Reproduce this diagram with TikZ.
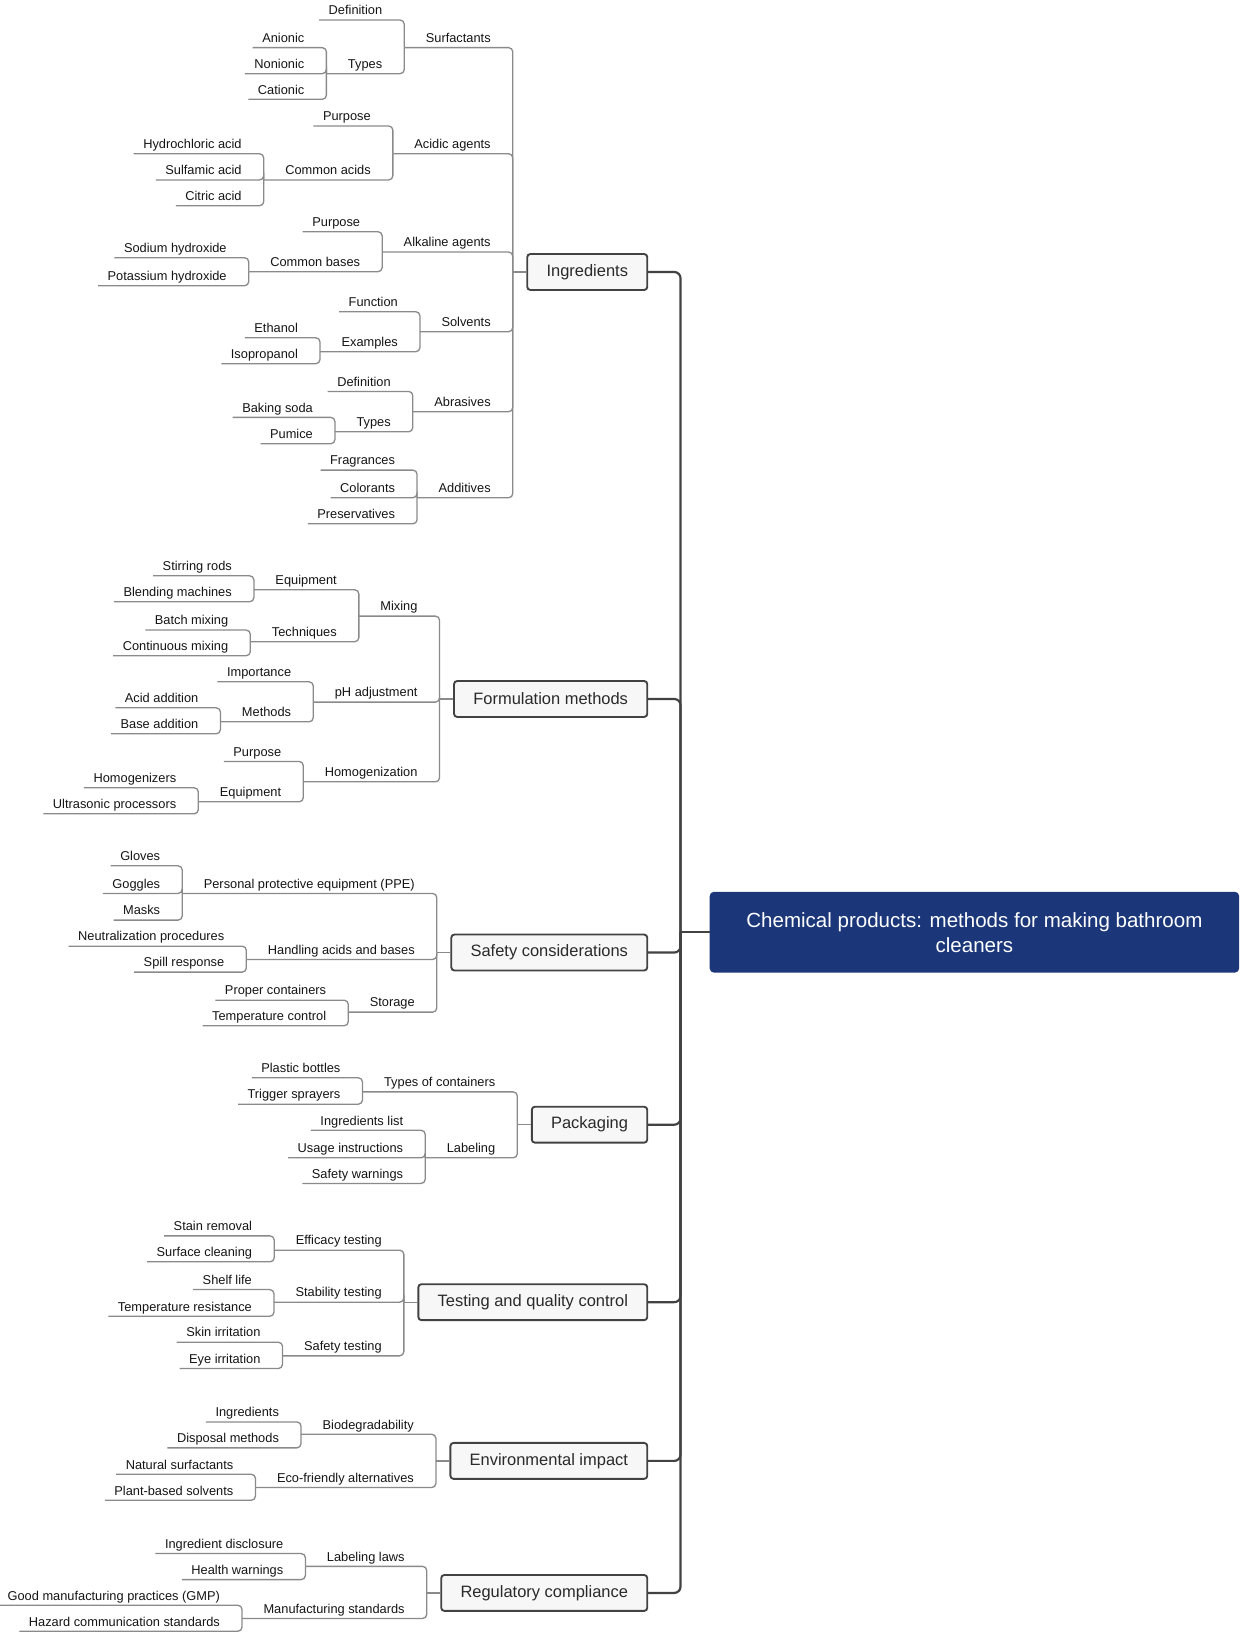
\documentclass[tikz,border=0pt]{standalone}
\usepackage{fontspec}
\setmainfont{Liberation Sans}
\usetikzlibrary{calc}
\definecolor{linkc}{HTML}{8A8A8A}
\definecolor{trunkc}{HTML}{424242}
\definecolor{boxfill}{HTML}{F7F7F7}
\definecolor{rootc}{HTML}{1B3779}
\definecolor{txt}{HTML}{141414}
\definecolor{boxtxt}{HTML}{2A2A2A}
\tikzset{
  lbl/.style={inner sep=0pt, font=\fontsize{12.3}{14}\selectfont, text=txt},
  link/.style={draw=linkc, line width=1.25pt, rounded corners=4pt},
  mainbox/.style={draw=trunkc, fill=boxfill, line width=1.8pt, rounded corners=3pt,
    font=\fontsize{15.8}{18}\selectfont, text=boxtxt, minimum height=34.5pt,
    inner xsep=18.5pt, inner ysep=0pt},
  trunk/.style={draw=trunkc, line width=2.1pt, rounded corners=6pt},
  rootbox/.style={fill=rootc, rounded corners=4pt, text=white,
    font=\fontsize{19.7}{24}\selectfont, align=center,
    minimum width=508pt, minimum height=77.5pt, inner sep=0pt}
}
% #1 name, #2 parent junction, #3 underline y, #4 text, #5 left padding
\newcommand\mmkid[5]{%
  \coordinate (#1-b) at ($(#2)+(-21pt,0)$);
  \coordinate (#1-y) at (0,#3-5);
  \coordinate (#1-u) at (0,#3);
  \node[lbl, anchor=base east] (#1) at (#1-b |- #1-y) {#4};
  \coordinate (#1-j) at ($(#1.base west |- #1-u)+(-20.5pt,0)$);
  \coordinate (#1-s) at ($(#1.base west |- #1-u)+(-#5pt,0)$);
  \draw[link] (#1-s) -| (#2);
}
\newcommand\mmmain[3]{%
  \node[mainbox, anchor=east] (#1) at (622,#2) {#3};
  \coordinate (#1-j) at ($(#1.west)+(-13pt,0)$);
  \draw[link] (#1.west) -- (#1-j);
  \draw[trunk] (#1.east) -| (rj);
}
\begin{document}
\begin{tikzpicture}[x=1pt,y=-1pt]
\useasboundingbox (0,0) rectangle (1190,1566);
\node[rootbox] (root) at (935,894.5) {Chemical products: methods for making bathroom\\cleaners};
\coordinate (rj) at (653,894.5);
\draw[trunk] (rj) -- (root.west);

% Ingredients
\mmmain{ing}{261}{Ingredients}
\mmkid{surf}{ing-j}{45.7}{Surfactants}{20.5}
\mmkid{defa}{surf-j}{19.2}{Definition}{9}
\mmkid{typa}{surf-j}{70.7}{Types}{20.5}
\mmkid{ani}{typa-j}{45.7}{Anionic}{9}
\mmkid{non}{typa-j}{70.7}{Nonionic}{9}
\mmkid{cat}{typa-j}{95.3}{Cationic}{9}
\mmkid{acid}{ing-j}{147.5}{Acidic agents}{20.5}
\mmkid{pura}{acid-j}{120.9}{Purpose}{9}
\mmkid{cacid}{acid-j}{172.7}{Common acids}{20.5}
\mmkid{hcl}{cacid-j}{147.5}{Hydrochloric acid}{9}
\mmkid{sulf}{cacid-j}{172.7}{Sulfamic acid}{9}
\mmkid{citr}{cacid-j}{197.4}{Citric acid}{9}
\mmkid{alk}{ing-j}{241.8}{Alkaline agents}{20.5}
\mmkid{purb}{alk-j}{222.3}{Purpose}{9}
\mmkid{cbase}{alk-j}{260.7}{Common bases}{20.5}
\mmkid{naoh}{cbase-j}{247.3}{Sodium hydroxide}{9}
\mmkid{koh}{cbase-j}{274.2}{Potassium hydroxide}{9}
\mmkid{solv}{ing-j}{318.3}{Solvents}{20.5}
\mmkid{func}{solv-j}{299.1}{Function}{9}
\mmkid{exa}{solv-j}{337.5}{Examples}{20.5}
\mmkid{eth}{exa-j}{324.1}{Ethanol}{9}
\mmkid{iso}{exa-j}{349}{Isopropanol}{9}
\mmkid{abr}{ing-j}{395.1}{Abrasives}{20.5}
\mmkid{defb}{abr-j}{375.6}{Definition}{9}
\mmkid{typb}{abr-j}{414.3}{Types}{20.5}
\mmkid{bak}{typb-j}{400.5}{Baking soda}{9}
\mmkid{pum}{typb-j}{425.8}{Pumice}{9}
\mmkid{add}{ing-j}{477.6}{Additives}{20.5}
\mmkid{fra}{add-j}{451.1}{Fragrances}{9}
\mmkid{col}{add-j}{477.6}{Colorants}{9}
\mmkid{pre}{add-j}{502.6}{Preservatives}{9}

% Formulation methods
\mmmain{form}{670.7}{Formulation methods}
\mmkid{mix}{form-j}{591.2}{Mixing}{20.5}
\mmkid{equa}{mix-j}{565.9}{Equipment}{20.5}
\mmkid{stir}{equa-j}{552.5}{Stirring rods}{9}
\mmkid{blend}{equa-j}{577.4}{Blending machines}{9}
\mmkid{tech}{mix-j}{615.8}{Techniques}{20.5}
\mmkid{batch}{tech-j}{604.6}{Batch mixing}{9}
\mmkid{cont}{tech-j}{629.2}{Continuous mixing}{9}
\mmkid{ph}{form-j}{673.7}{pH adjustment}{20.5}
\mmkid{imp}{ph-j}{654.2}{Importance}{9}
\mmkid{meth}{ph-j}{692.6}{Methods}{20.5}
\mmkid{acad}{meth-j}{679.2}{Acid addition}{9}
\mmkid{bsad}{meth-j}{704.1}{Base addition}{9}
\mmkid{hom}{form-j}{750.2}{Homogenization}{20.5}
\mmkid{purc}{hom-j}{730.6}{Purpose}{9}
\mmkid{equb}{hom-j}{769.4}{Equipment}{20.5}
\mmkid{homz}{equb-j}{755.9}{Homogenizers}{9}
\mmkid{ultra}{equb-j}{780.9}{Ultrasonic processors}{9}

% Safety considerations
\mmmain{safe}{914}{Safety considerations}
\mmkid{ppe}{safe-j}{857.3}{Personal protective equipment (PPE)}{20.5}
\mmkid{glo}{ppe-j}{830.8}{Gloves}{9}
\mmkid{gog}{ppe-j}{857.3}{Goggles}{9}
\mmkid{mas}{ppe-j}{882.9}{Masks}{9}
\mmkid{hand}{safe-j}{920.7}{Handling acids and bases}{20.5}
\mmkid{neut}{hand-j}{907.9}{Neutralization procedures}{9}
\mmkid{spill}{hand-j}{932.8}{Spill response}{9}
\mmkid{stor}{safe-j}{971.2}{Storage}{20.5}
\mmkid{prop}{stor-j}{959.7}{Proper containers}{9}
\mmkid{tctl}{stor-j}{984.3}{Temperature control}{9}

% Packaging
\mmmain{pack}{1079.2}{Packaging}
\mmkid{toc}{pack-j}{1047.7}{Types of containers}{20.5}
\mmkid{plas}{toc-j}{1034.2}{Plastic bottles}{9}
\mmkid{trig}{toc-j}{1059.5}{Trigger sprayers}{9}
\mmkid{labl}{pack-j}{1111}{Labeling}{20.5}
\mmkid{ingl}{labl-j}{1084.5}{Ingredients list}{9}
\mmkid{usage}{labl-j}{1111}{Usage instructions}{9}
\mmkid{safw}{labl-j}{1135.6}{Safety warnings}{9}

% Testing and quality control
\mmmain{test}{1249.5}{Testing and quality control}
\mmkid{eff}{test-j}{1199.6}{Efficacy testing}{20.5}
\mmkid{stain}{eff-j}{1185.9}{Stain removal}{9}
\mmkid{surfc}{eff-j}{1210.8}{Surface cleaning}{9}
\mmkid{stab}{test-j}{1249.5}{Stability testing}{20.5}
\mmkid{shelf}{stab-j}{1237.4}{Shelf life}{9}
\mmkid{tres}{stab-j}{1263}{Temperature resistance}{9}
\mmkid{saft}{test-j}{1301}{Safety testing}{20.5}
\mmkid{skin}{saft-j}{1287.9}{Skin irritation}{9}
\mmkid{eye}{saft-j}{1313.2}{Eye irritation}{9}

% Environmental impact
\mmmain{env}{1401.8}{Environmental impact}
\mmkid{bio}{env-j}{1376.2}{Biodegradability}{20.5}
\mmkid{ingr}{bio-j}{1364.4}{Ingredients}{9}
\mmkid{disp}{bio-j}{1389.3}{Disposal methods}{9}
\mmkid{eco}{env-j}{1427.4}{Eco-friendly alternatives}{20.5}
\mmkid{nat}{eco-j}{1414.6}{Natural surfactants}{9}
\mmkid{plant}{eco-j}{1439.6}{Plant-based solvents}{9}

% Regulatory compliance
\mmmain{reg}{1528.5}{Regulatory compliance}
\mmkid{laws}{reg-j}{1503}{Labeling laws}{20.5}
\mmkid{disc}{laws-j}{1490.7}{Ingredient disclosure}{9}
\mmkid{hw}{laws-j}{1515.7}{Health warnings}{9}
\mmkid{mstd}{reg-j}{1553}{Manufacturing standards}{20.5}
\mmkid{gmp}{mstd-j}{1540.3}{Good manufacturing practices (GMP)}{9}
\mmkid{hcs}{mstd-j}{1565.3}{Hazard communication standards}{9}
\end{tikzpicture}
\end{document}
